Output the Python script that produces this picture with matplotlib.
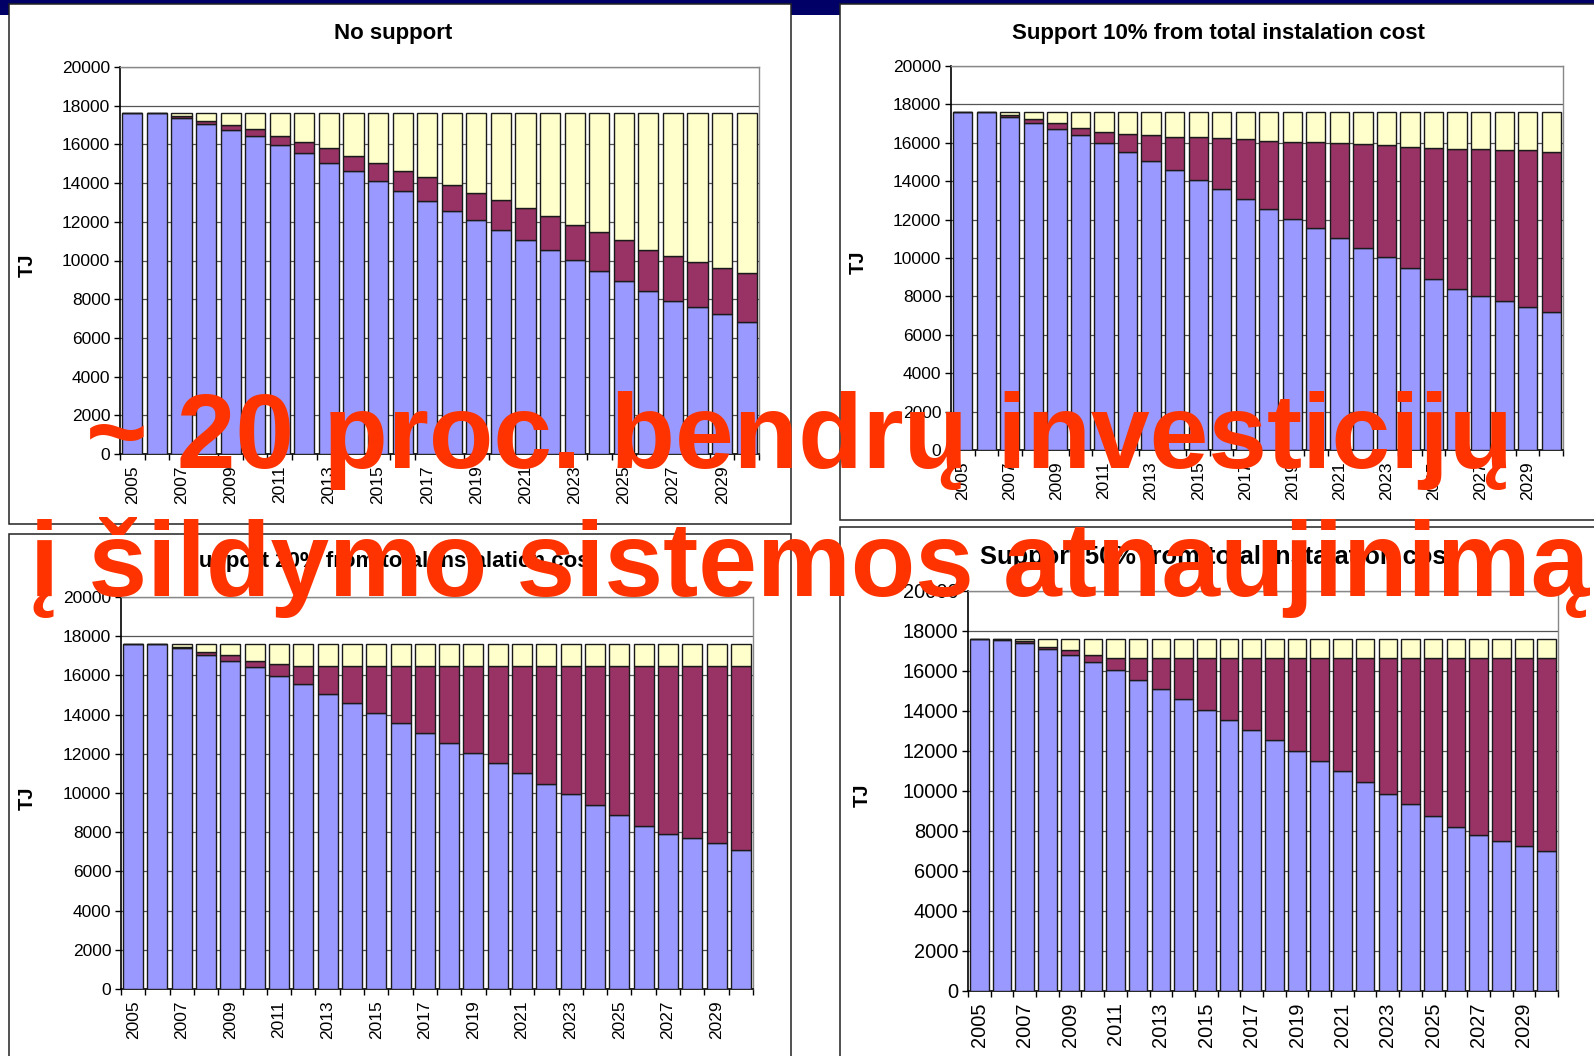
import matplotlib
matplotlib.use("Agg")
import matplotlib.pyplot as plt
from matplotlib.patches import Rectangle
import numpy as np

# ---- data (TJ) ----
years = list(range(2005, 2031))
year_labels = [str(y) if (y - 2005) % 2 == 0 else "" for y in years]

titles = ["No support",
          "Support 10% from total instalation cost",
          "Support 20% from total instalation cost",
          "Support 50% from total instalation cost"]

blue_0 = [17600, 17600, 17380, 17070, 16760, 16450, 15990, 15540, 15030, 14600, 14100, 13580, 13100,
          12580, 12080, 11570, 11070, 10550, 10050, 9470, 8930, 8420, 7900, 7590, 7210, 6820]
maroon_0 = [0, 0, 90, 140, 260, 350, 460, 590, 770, 820, 940, 1070, 1190,
            1310, 1430, 1580, 1630, 1770, 1810, 1980, 2120, 2130, 2320, 2310, 2390, 2530]
yellow_0 = [0, 0, 130, 390, 580, 800, 1150, 1470, 1800, 2180, 2560, 2950, 3310,
            3710, 4090, 4450, 4900, 5280, 5740, 6150, 6550, 7050, 7380, 7700, 8000, 8250]

blue_10 = [17600, 17600, 17360, 17050, 16740, 16410, 15970, 15540, 15040, 14580, 14080, 13580, 13060,
           12570, 12050, 11550, 11040, 10540, 10040, 9460, 8890, 8370, 8000, 7760, 7450, 7190]
maroon_10 = [0, 0, 90, 190, 290, 360, 580, 900, 1350, 1740, 2240, 2670, 3140,
             3540, 4010, 4510, 4950, 5400, 5830, 6340, 6860, 7290, 7660, 7850, 8160, 8350]
yellow_10 = [0, 0, 150, 360, 570, 830, 1050, 1160, 1210, 1280, 1280, 1350, 1400,
             1490, 1540, 1540, 1610, 1660, 1730, 1800, 1850, 1940, 1940, 1990, 1990, 2060]

blue_20 = [17600, 17600, 17390, 17050, 16730, 16410, 15980, 15550, 15040, 14590, 14070, 13570, 13050,
           12570, 12050, 11550, 11040, 10480, 9960, 9380, 8860, 8300, 7930, 7680, 7430, 7110]
maroon_20 = [0, 0, 60, 150, 290, 340, 590, 950, 1460, 1910, 2430, 2930, 3450,
             3930, 4450, 4950, 5460, 6020, 6540, 7120, 7640, 8200, 8570, 8820, 9070, 9390]
yellow_20 = [0, 0, 150, 400, 580, 850, 1030, 1100, 1100, 1100, 1100, 1100, 1100,
             1100, 1100, 1100, 1100, 1100, 1100, 1100, 1100, 1100, 1100, 1100, 1100, 1100]

blue_50 = [17600, 17550, 17390, 17100, 16780, 16450, 16030, 15570, 15080, 14580, 14070, 13560, 13070,
           12550, 12000, 11500, 11010, 10430, 9850, 9330, 8770, 8210, 7820, 7510, 7260, 7000]
maroon_50 = [0, 30, 90, 120, 260, 370, 630, 1090, 1580, 2080, 2590, 3100, 3590,
             4110, 4660, 5160, 5650, 6230, 6810, 7330, 7890, 8450, 8840, 9150, 9400, 9660]
yellow_50 = [0, 20, 120, 380, 560, 780, 940, 940, 940, 940, 940, 940, 940,
             940, 940, 940, 940, 940, 940, 940, 940, 940, 940, 940, 940, 940]

overlay_1 = "~ 20 proc. bendrų investicijų"
overlay_2 = "į šildymo sistemos atnaujinimą"

# ---- layout (pixels of a 1594x1056 picture) ----
W, H = 1594, 1056
c_blue, c_maroon, c_yellow = "#9999FF", "#993366", "#FFFFCC"

panels = [
    # axes box, frame box, title centre, TJ centre, font scale
    dict(ax=(120, 67, 759, 454), frame=(9, 4, 791, 524), title=(393, 33), tj=(27, 265), s=1.0,
         data=(blue_0, maroon_0, yellow_0)),
    dict(ax=(951, 66, 1563, 450), frame=(840, 4, 1620, 520), title=(1218, 33), tj=(858, 262), s=1.0,
         data=(blue_10, maroon_10, yellow_10)),
    dict(ax=(121, 597, 753, 989), frame=(9, 534, 791, 1080), title=(390, 562), tj=(27, 798), s=1.0,
         data=(blue_20, maroon_20, yellow_20)),
    dict(ax=(968, 591, 1558, 991), frame=(840, 527, 1620, 1080), title=(1218, 557), tj=(862, 795), s=1.15,
         data=(blue_50, maroon_50, yellow_50)),
]

plt.rcParams['font.family'] = ['Liberation Sans', 'DejaVu Sans']

fig = plt.figure(figsize=(W / 100, H / 100), dpi=100)
fig.patch.set_facecolor("white")

# navy strip on top of the slide
fig.patches.append(Rectangle((0, 1 - 15 / H), 1, 15 / H, transform=fig.transFigure,
                             facecolor="#000066", edgecolor="none", zorder=0))

x = np.arange(len(years))
for i, p in enumerate(panels):
    l, t, r, b = p["frame"]
    fig.patches.append(Rectangle((l / W, 1 - b / H), (r - l) / W, (b - t) / H,
                                 transform=fig.transFigure, facecolor="white",
                                 edgecolor="#222222", linewidth=1.1, zorder=1))
    l, t, r, b = p["ax"]
    ax = fig.add_axes([l / W, 1 - b / H, (r - l) / W, (b - t) / H])
    ax.set_zorder(2)
    blue, maroon, yellow = [np.array(v) for v in p["data"]]
    kw = dict(width=0.82, edgecolor="#1a1a1a", linewidth=1.0, zorder=3)
    ax.bar(x, blue, color=c_blue, **kw)
    ax.bar(x, maroon, bottom=blue, color=c_maroon, **kw)
    ax.bar(x, yellow, bottom=blue + maroon, color=c_yellow, **kw)

    ax.set_xlim(-0.5, len(years) - 0.5)
    ax.set_ylim(0, 20000)
    ax.set_yticks(range(0, 20001, 2000))
    ax.set_xticks(x)
    ax.set_xticklabels(year_labels, rotation=90)
    ax.set_xticks(np.arange(-0.5, len(years)), minor=True)
    ax.tick_params(axis="x", which="major", length=0, pad=8, labelsize=12.5 * p["s"])
    ax.tick_params(axis="x", which="minor", length=4, width=1, direction="out")
    ax.tick_params(axis="y", length=4, width=1, direction="out", pad=3, labelsize=12.5 * p["s"])
    ax.grid(axis="y", color="#555555", linewidth=0.9)
    ax.set_axisbelow(True)
    for side in ("left", "bottom"):
        ax.spines[side].set_color("black")
        ax.spines[side].set_linewidth(1.2)
    for side in ("top", "right"):
        ax.spines[side].set_color("#888888")
        ax.spines[side].set_linewidth(1.0)

    tx, ty = p["title"]
    fig.text(tx / W, 1 - ty / H, titles[i], ha="center", va="center",
             fontsize=16 * p["s"], fontweight="bold", zorder=4)
    jx, jy = p["tj"]
    fig.text(jx / W, 1 - jy / H, "TJ", ha="center", va="center", rotation=90,
             fontsize=14.5, fontweight="bold", zorder=4)

red = "#FF3300"
fam = ['Liberation Sans Narrow', 'Liberation Sans', 'DejaVu Sans']
fig.text(86 / W, 1 - 468 / H, overlay_1, ha="left", va="baseline", color=red,
         fontsize=76, fontweight="bold", family=fam, zorder=10)
fig.text(30 / W, 1 - 596 / H, overlay_2, ha="left", va="baseline", color=red,
         fontsize=76, fontweight="bold", family=fam, zorder=10)

fig.savefig("out.png", dpi=100)
